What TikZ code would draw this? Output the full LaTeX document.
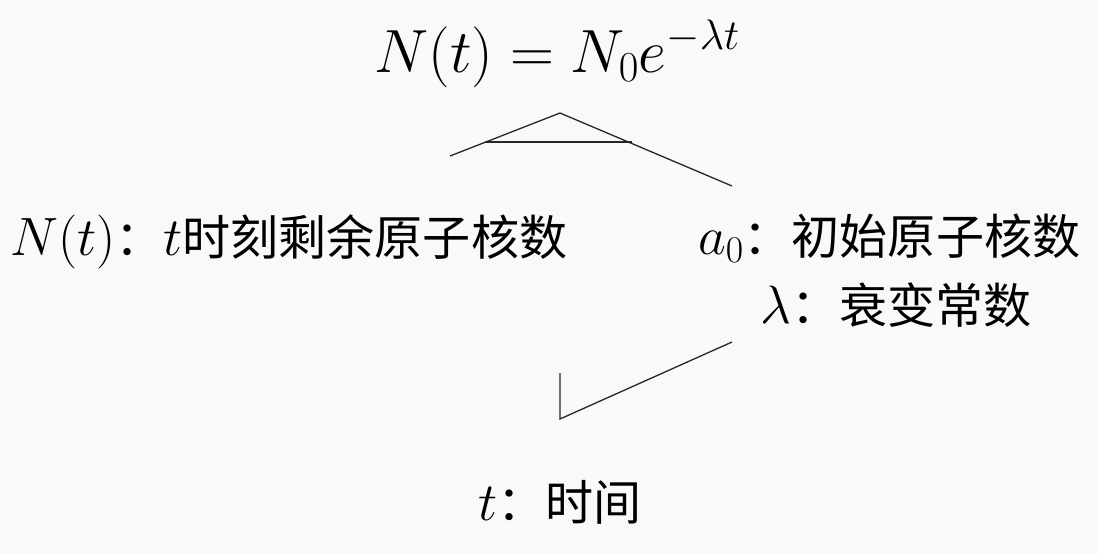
\RequirePackage{fix-cm}
\documentclass[tikz,border=0pt]{standalone}
\usepackage{fontspec}
\newfontfamily\cjk[Scale=0.89]{Noto Sans CJK SC}
\definecolor{bgc}{RGB}{249,249,247}
\begin{document}
\begin{tikzpicture}[x=1pt,y=-1pt,
  lbl/.style={inner sep=0pt, font=\fontsize{54}{64}\selectfont},
  eqs/.style={inner sep=0pt, font=\fontsize{61}{72}\selectfont},
  ln/.style={line width=1.3pt, black!85, line join=miter}]
\fill[bgc] (0,0) rectangle (1097,554);
\useasboundingbox (0,0) rectangle (1097,554);
\node[eqs, anchor=base] (eq) at (557,72) {$N(t) = N_0e^{-\lambda t}$};
\node[lbl, anchor=base west] (nt) at (10,255) {$N(t)$\cjk{}：$t$时刻剩余原子核数};
\node[lbl, anchor=base west] (a0) at (698,254) {$a_0$\cjk{}：初始原子核数};
\node[lbl, anchor=base west] (lam) at (760,323) {$\lambda$\cjk{}：衰变常数};
\node[lbl, anchor=base west] (tt) at (478,520) {$t$\cjk{}：时间};
\coordinate (p1) at (450,156);
\coordinate (p2) at (560,113);
\coordinate (p3) at (732,186);
\coordinate (h1) at (485,142);
\coordinate (h2) at (632,142);
\draw[ln] (p1) -- (p2) -- (p3);
\draw[ln] (h1) -- (h2);
\coordinate (q1) at (560,373);
\coordinate (q2) at (560,419);
\coordinate (q3) at (732,342);
\draw[ln] (q1) -- (q2) -- (q3);
\end{tikzpicture}
\end{document}
